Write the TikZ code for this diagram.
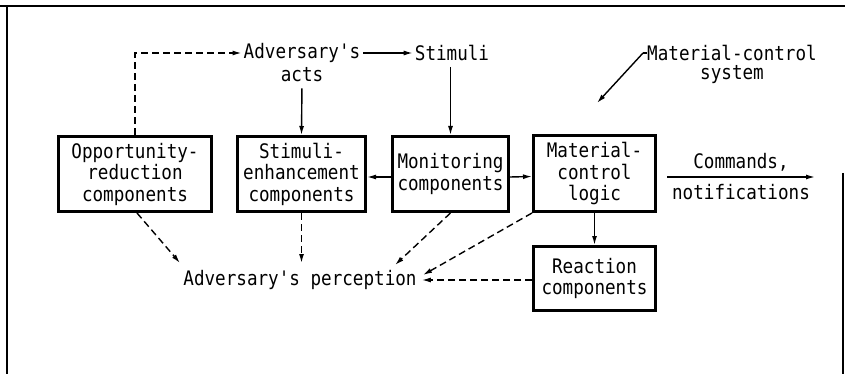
\documentclass[tikz,border=0pt]{standalone}
\usepackage{fontspec}
\setmonofont{DejaVu Sans Mono}[FakeStretch=0.88]
\usetikzlibrary{arrows.meta,calc}
\begin{document}
\begin{tikzpicture}[x=1pt,y=-1pt, font=\ttfamily\fontsize{20}{21.5}\selectfont,
 box/.style={draw,line width=3pt,align=center,inner sep=0pt},
 lbl/.style={inner sep=0pt,align=center},
 conn/.style={line width=1.4pt,-{Latex[length=9pt,width=5pt]}},
 dconn/.style={conn,dash pattern=on 7pt off 4pt},
 frameline/.style={line width=1.5pt}]
\useasboundingbox (0,0) rectangle (845,374);
% frame
\draw[frameline] (0,6) -- (845,6);
\draw[frameline] (7,6) -- (7,374);
\draw[frameline] (843,173) -- (843,374);
% boxes
\node[box,minimum width=153pt,minimum height=75pt] (opp) at (135,174) {Opportunity-\\reduction\\components};
\node[box,minimum width=128pt,minimum height=75pt] (stim) at (301.5,174) {Stimuli-\\enhancement\\components};
\node[box,minimum width=116pt,minimum height=75pt] (mon) at (450.5,174) {Monitoring\\components};
\node[box,minimum width=122pt,minimum height=76pt] (mcl) at (594.5,173.5) {Material-\\control\\logic};
\node[box,minimum width=122pt,minimum height=64pt] (react) at (594.5,278.5) {Reaction\\components};
% labels
\node[lbl] (advA) at (302,53) {Adversary's};
\node[lbl] (advB) at (302,75) {acts};
\node[lbl] (stimT) at (452,53) {Stimuli};
\node[lbl] (mcsA) at (732,53) {Material-control};
\node[lbl] (mcsB) at (732,75) {system};
\node[lbl] (cmdT) at (741,162) {Commands,};
\node[lbl] (notT) at (741,192) {notifications};
\node[lbl] (perc) at (300,280) {Adversary's perception};
% coordinates
\coordinate (cmdA) at (667,177);
\coordinate (cmdB) at (815,177);
\coordinate (leadEnd) at (597,103);
\coordinate (pOpp) at (180,263);
\coordinate (pStim) at (301.5,263);
\coordinate (pMon) at (395,265);
\coordinate (pMcl) at (423,275);
% connectors
\draw[dconn,shorten >=2pt] (opp.north) |- (advA.west);
\draw[conn,shorten <=3pt,shorten >=2pt] (advA.east) -- (stimT.west);
\draw[conn,shorten <=6pt] (advB.south) -- (stim.north);
\draw[conn,shorten <=6pt] (mon.north |- stimT.south) -- (mon.north);
\draw[conn] ($(mon.west)+(0,3)$) -- ($(stim.east)+(0,3)$);
\draw[conn] ($(mon.east)+(0,3)$) -- ($(mcl.west)+(0,3)$);
\draw[conn] (cmdA) -- (cmdB);
\draw[conn] (mcl.south) -- (react.north);
\draw[line width=1.4pt] (mcsA.west) -- ++(-4,0) coordinate (leadStart);
\draw[conn] (leadStart) -- (leadEnd);
\draw[dconn] ($(opp.south)+(2,0)$) -- (pOpp);
\draw[dconn] (stim.south) -- (pStim);
\draw[dconn] (mon.south) -- (pMon);
\draw[dconn] (mcl.south west) -- (pMcl);
\draw[dconn,shorten >=5pt] (react.west |- perc.east) -- (perc.east);
\end{tikzpicture}
\end{document}
